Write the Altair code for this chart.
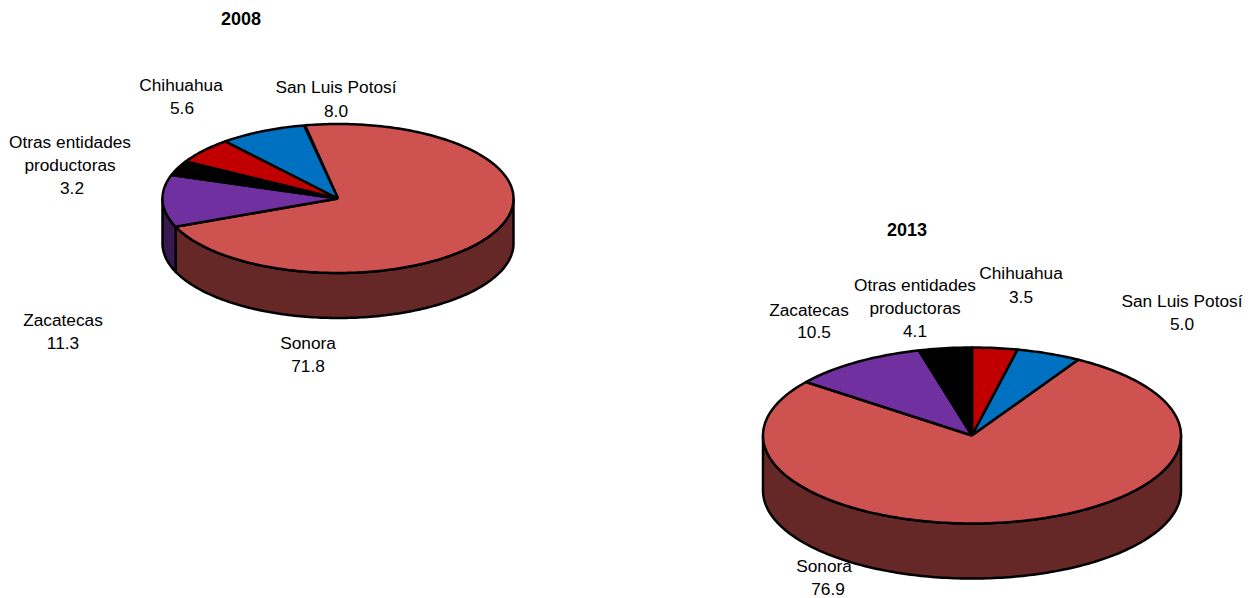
import math
import altair as alt
import pandas as pd

# --- values ---
names_2008 = ["Sonora", "Zacatecas", "Otras entidades productoras", "Chihuahua", "San Luis Potosí"]
values_2008 = [71.8, 11.3, 3.2, 5.6, 8.0]
names_2013 = ["Chihuahua", "San Luis Potosí", "Sonora", "Zacatecas", "Otras entidades productoras"]
values_2013 = [3.5, 5.0, 76.9, 10.5, 4.1]

top_colors = {"Sonora": "#CD5250", "Zacatecas": "#7030A0", "Otras entidades productoras": "#000000",
              "Chihuahua": "#C00000", "San Luis Potosí": "#0070C0"}
side_colors = {"Sonora": "#662827", "Zacatecas": "#381850", "Otras entidades productoras": "#000000",
               "Chihuahua": "#600000", "San Luis Potosí": "#003860"}

# pie geometry in page pixels: centre x, centre y, radius x, radius y, depth, start angle
geom_2008 = (338, 198.5, 175.5, 74.5, 45, -10.8)
geom_2013 = (972, 435.5, 209, 88, 55, 0.0)

# label lines: text, x, y
labels = [
    ("San Luis Potosí", 336, 87.5), ("8.0", 336, 111.5),
    ("Chihuahua", 181, 85.5), ("5.6", 182, 108.5),
    ("Otras entidades", 70, 142.5), ("productoras", 70, 165.5), ("3.2", 72, 188.5),
    ("Zacatecas", 63, 320.5), ("11.3", 63, 343.5),
    ("Sonora", 308, 343.5), ("71.8", 308, 366.5),
    ("Zacatecas", 809, 310.5), ("10.5", 814, 332.5),
    ("Otras entidades", 915, 285.5), ("productoras", 915, 308.5), ("4.1", 915, 331.5),
    ("Chihuahua", 1021, 273.5), ("3.5", 1021, 297.5),
    ("San Luis Potosí", 1182, 301.5), ("5.0", 1182, 324.5),
    ("Sonora", 824, 566.5), ("76.9", 828, 589.5),
]
titles = [("2008", 241, 19.5), ("2013", 907, 230.5)]


def rim(g, t, drop=0):
    cx, cy, rx, ry, _, _ = g
    a = math.radians(t)
    return cx + rx * math.sin(a), cy - ry * math.cos(a) + drop


def arc_angles(a, b):
    n = max(2, int(abs(b - a)) + 1)
    return [a + (b - a) * i / (n - 1) for i in range(n)]


def build(tag, names, values, g):
    tops, sides = [], []
    t = g[5]
    depth = g[4]
    for name, v in zip(names, values):
        t2 = t + v * 3.6
        pts = [(g[0], g[1])] + [rim(g, a) for a in arc_angles(t, t2)] + [(g[0], g[1])]
        for i, (x, y) in enumerate(pts):
            tops.append(dict(id=f"{tag}-{name}", i=i, x=x, y=y, fill=top_colors[name]))
        # visible wall: the lower half of the rim, t in 90..270
        a, b = max(t, 90), min(t2, 270)
        if b > a:
            angs = arc_angles(a, b)
            wall = [rim(g, q) for q in angs] + [rim(g, q, depth) for q in reversed(angs)]
            wall.append(wall[0])
            for i, (x, y) in enumerate(wall):
                sides.append(dict(id=f"{tag}-{name}", i=i, x=x, y=y, fill=side_colors[name]))
        t = t2
    return tops, sides


t1, s1 = build("2008", names_2008, values_2008, geom_2008)
t2, s2 = build("2013", names_2013, values_2013, geom_2013)

W, H = 1242, 590
X = alt.X("x:Q", scale=alt.Scale(domain=[8, 8 + W], range=[0, W]), axis=None)
Y = alt.Y("y:Q", scale=alt.Scale(domain=[8, 8 + H], range=[0, H]), axis=None)


def poly(rows):
    return alt.Chart(pd.DataFrame(rows)).mark_line(
        stroke="#000000", strokeWidth=2.5, strokeJoin="round", clip=False
    ).encode(x=X, y=Y, order="i:Q", detail="id:N", fill=alt.Fill("fill:N", scale=None))


lab = alt.Chart(pd.DataFrame(labels, columns=["t", "x", "y"])).mark_text(
    font="Liberation Sans", fontSize=17.3, color="#000000", align="center", baseline="middle"
).encode(x=X, y=Y, text="t:N")
tit = alt.Chart(pd.DataFrame(titles, columns=["t", "x", "y"])).mark_text(
    font="Liberation Sans", fontSize=18, fontWeight="bold", color="#000000", align="center", baseline="middle"
).encode(x=X, y=Y, text="t:N")

chart = alt.layer(poly(s1 + s2), poly(t1 + t2), lab, tit).properties(
    width=W, height=H, padding=0, autosize=alt.AutoSizeParams(type="none"), background="white"
).configure_view(stroke=None)

chart.save("out.html", embed_options={"renderer": "svg", "actions": False})
